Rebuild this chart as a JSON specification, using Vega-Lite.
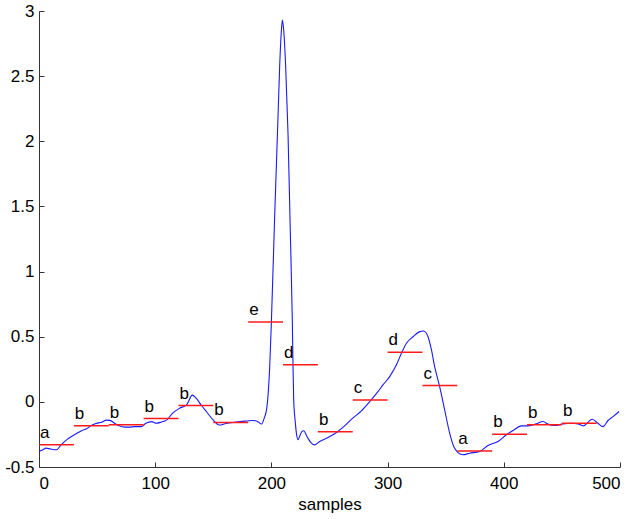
{
  "$schema": "https://vega.github.io/schema/vega-lite/v6.json",
  "width": 581,
  "height": 456,
  "autosize": {"type": "none"},
  "padding": {"left": 39, "top": 11, "right": 18, "bottom": 52},
  "background": "white",
  "config": {
    "view": {"stroke": null},
    "font": "Liberation Sans",
    "axis": {
      "grid": false,
      "domainColor": "#333333",
      "tickColor": "#333333",
      "domainWidth": 1,
      "tickWidth": 1,
      "labelColor": "black",
      "labelFont": "Liberation Sans",
      "labelFontSize": 17,
      "titleFont": "Liberation Sans",
      "titleFontSize": 17,
      "titleFontWeight": "normal",
      "titleColor": "black"
    }
  },
  "datasets": {
    "curve": [
      {"x": 0, "y": -0.38}, {"x": 3, "y": -0.37}, {"x": 6, "y": -0.355}, {"x": 10, "y": -0.362},
      {"x": 15, "y": -0.368}, {"x": 19, "y": -0.33}, {"x": 24, "y": -0.29}, {"x": 28, "y": -0.266},
      {"x": 32, "y": -0.245}, {"x": 37, "y": -0.22}, {"x": 41, "y": -0.207}, {"x": 45, "y": -0.181},
      {"x": 49, "y": -0.166}, {"x": 54, "y": -0.156}, {"x": 58, "y": -0.14}, {"x": 61, "y": -0.142},
      {"x": 65, "y": -0.164}, {"x": 69, "y": -0.184}, {"x": 74, "y": -0.194}, {"x": 78, "y": -0.194},
      {"x": 82, "y": -0.19}, {"x": 88, "y": -0.19}, {"x": 92, "y": -0.164}, {"x": 97, "y": -0.152},
      {"x": 101, "y": -0.164}, {"x": 105, "y": -0.156}, {"x": 110, "y": -0.138}, {"x": 115, "y": -0.087},
      {"x": 121, "y": -0.049}, {"x": 127, "y": -0.023}, {"x": 132, "y": 0.052}, {"x": 135, "y": 0.03},
      {"x": 140, "y": -0.03}, {"x": 144, "y": -0.074}, {"x": 150, "y": -0.14}, {"x": 155, "y": -0.178},
      {"x": 161, "y": -0.166}, {"x": 167, "y": -0.158}, {"x": 173, "y": -0.152}, {"x": 179, "y": -0.147},
      {"x": 184, "y": -0.143}, {"x": 188, "y": -0.15}, {"x": 191.5, "y": -0.17}, {"x": 194, "y": -0.12},
      {"x": 196, "y": -0.05}, {"x": 197.5, "y": 0.1}, {"x": 198.5, "y": 0.26}, {"x": 200, "y": 0.616},
      {"x": 202.8, "y": 1.42}, {"x": 205.7, "y": 2.19}, {"x": 207.1, "y": 2.57}, {"x": 208.6, "y": 2.85},
      {"x": 209.5, "y": 2.93}, {"x": 210.6, "y": 2.85}, {"x": 212.3, "y": 2.57}, {"x": 214.3, "y": 2.06},
      {"x": 216.3, "y": 1.29}, {"x": 218, "y": 0.63}, {"x": 218.6, "y": 0.27}, {"x": 219.2, "y": 0.015},
      {"x": 220.5, "y": -0.15}, {"x": 221.5, "y": -0.24}, {"x": 222.9, "y": -0.29}, {"x": 224.5, "y": -0.26},
      {"x": 226, "y": -0.23}, {"x": 227.8, "y": -0.222}, {"x": 230.6, "y": -0.266}, {"x": 234.4, "y": -0.317},
      {"x": 237.3, "y": -0.33}, {"x": 241.6, "y": -0.304}, {"x": 248.7, "y": -0.274}, {"x": 256, "y": -0.235},
      {"x": 263, "y": -0.184}, {"x": 270, "y": -0.125}, {"x": 277.5, "y": -0.069}, {"x": 284.6, "y": 0.002},
      {"x": 291.7, "y": 0.079}, {"x": 296, "y": 0.13}, {"x": 301.8, "y": 0.194}, {"x": 307.6, "y": 0.284},
      {"x": 311.9, "y": 0.373}, {"x": 316.2, "y": 0.45}, {"x": 321.9, "y": 0.5}, {"x": 327.6, "y": 0.539},
      {"x": 331, "y": 0.544}, {"x": 334.8, "y": 0.5}, {"x": 337.7, "y": 0.4}, {"x": 340.5, "y": 0.27},
      {"x": 344.8, "y": 0.117}, {"x": 349.1, "y": -0.061}, {"x": 353.4, "y": -0.24}, {"x": 356.9, "y": -0.343},
      {"x": 360.6, "y": -0.389}, {"x": 364.9, "y": -0.406}, {"x": 370.6, "y": -0.394}, {"x": 379.3, "y": -0.381},
      {"x": 386.4, "y": -0.335}, {"x": 395, "y": -0.304}, {"x": 402.2, "y": -0.253}, {"x": 408, "y": -0.22},
      {"x": 415, "y": -0.184}, {"x": 420.8, "y": -0.184}, {"x": 428, "y": -0.169}, {"x": 433.7, "y": -0.151},
      {"x": 438, "y": -0.171}, {"x": 443.8, "y": -0.181}, {"x": 451, "y": -0.169}, {"x": 458.2, "y": -0.164},
      {"x": 463.9, "y": -0.169}, {"x": 468.2, "y": -0.184}, {"x": 476.2, "y": -0.133}, {"x": 481, "y": -0.164},
      {"x": 485.4, "y": -0.19}, {"x": 489.7, "y": -0.143}, {"x": 494, "y": -0.113}, {"x": 499.2, "y": -0.074}
    ],
    "segs": [
      {"start": 0, "end": 30, "level": -0.33, "label": "a"},
      {"start": 30, "end": 60, "level": -0.184, "label": "b"},
      {"start": 60, "end": 90, "level": -0.176, "label": "b"},
      {"start": 90, "end": 120, "level": -0.128, "label": "b"},
      {"start": 120, "end": 150, "level": -0.028, "label": "b"},
      {"start": 150, "end": 180, "level": -0.158, "label": "b"},
      {"start": 180, "end": 210, "level": 0.613, "label": "e"},
      {"start": 210, "end": 240, "level": 0.284, "label": "d"},
      {"start": 240, "end": 270, "level": -0.23, "label": "b"},
      {"start": 270, "end": 300, "level": 0.015, "label": "c"},
      {"start": 300, "end": 330, "level": 0.381, "label": "d"},
      {"start": 330, "end": 360, "level": 0.125, "label": "c"},
      {"start": 360, "end": 390, "level": -0.378, "label": "a"},
      {"start": 390, "end": 420, "level": -0.248, "label": "b"},
      {"start": 420, "end": 450, "level": -0.176, "label": "b"},
      {"start": 450, "end": 480, "level": -0.164, "label": "b"}
    ]
  },
  "layer": [
    {
      "data": {"name": "curve"},
      "mark": {"type": "line", "color": "#1a1aff", "strokeWidth": 1.1, "interpolate": "monotone"},
      "encoding": {
        "x": {
          "field": "x", "type": "quantitative",
          "scale": {"domain": [0, 500], "nice": false, "zero": false},
          "axis": {"values": [0, 100, 200, 300, 400, 500], "title": "samples", "tickSize": -5, "labelPadding": 13, "titlePadding": 5, "labelExpr": "'' + datum.value"}
        },
        "y": {
          "field": "y", "type": "quantitative",
          "scale": {"domain": [-0.5, 3], "nice": false, "zero": false},
          "axis": {"values": [-0.5, 0, 0.5, 1, 1.5, 2, 2.5, 3], "title": null, "tickSize": -5, "labelPadding": 10, "labelExpr": "'' + datum.value"}
        }
      }
    },
    {
      "data": {"name": "segs"},
      "mark": {"type": "rule", "color": "#ff1a1a", "strokeWidth": 1.5},
      "encoding": {
        "x": {"field": "start", "type": "quantitative"},
        "x2": {"field": "end"},
        "y": {"field": "level", "type": "quantitative"}
      }
    },
    {
      "data": {"name": "segs"},
      "mark": {"type": "text", "align": "left", "baseline": "alphabetic", "dx": 1, "dy": -7, "fontSize": 17, "font": "Liberation Sans", "color": "black"},
      "encoding": {
        "x": {"field": "start", "type": "quantitative"},
        "y": {"field": "level", "type": "quantitative"},
        "text": {"field": "label"}
      }
    }
  ]
}
